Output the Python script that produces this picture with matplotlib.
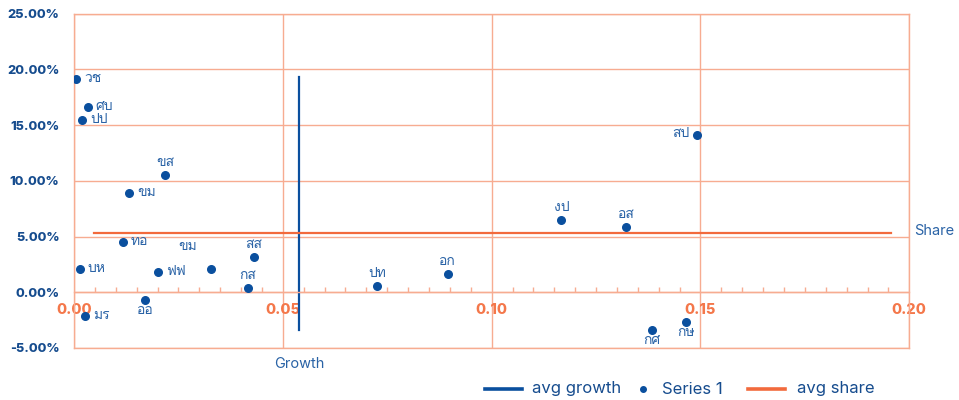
import matplotlib
matplotlib.use("Agg")
import matplotlib.font_manager as _fm
from matplotlib.ft2font import FT2Font
import matplotlib.pyplot as plt
from matplotlib.lines import Line2D
from matplotlib.ticker import PercentFormatter, FormatStrFormatter, MultipleLocator

# หาฟอนต์ที่มีอักษรไทย (ถ้าไม่มีใช้ DejaVu Sans)
def _find_thai_font():
    for f in _fm.fontManager.ttflist:
        try:
            if FT2Font(f.fname).get_char_index(0x0E01):
                return f.name
        except Exception:
            pass
    return "DejaVu Sans"

THAI_FONT = _find_thai_font()
plt.rcParams["font.family"] = ["Inter", "DejaVu Sans"]
plt.rcParams["axes.unicode_minus"] = False

# ─── data ─────────────────────────────────────────────────────────────── #
names = ["วช", "ศบ", "ปป", "ขส", "ขม", "ทอ", "บห", "ฟฟ", "ขม", "สส",
         "กส", "ออ", "มร", "ปท", "อก", "งป", "อส", "สป", "กศ", "กษ"]
growth = [0.0005, 0.0033, 0.0020, 0.0218, 0.0132, 0.0117, 0.0014, 0.0201, 0.0329, 0.0430,
          0.0416, 0.0170, 0.0027, 0.0725, 0.0895, 0.1167, 0.1322, 0.1491, 0.1384, 0.1466]
share = [0.191, 0.166, 0.155, 0.105, 0.089, 0.045, 0.021, 0.018, 0.021, 0.032,
         0.004, -0.007, -0.021, 0.006, 0.016, 0.065, 0.059, 0.141, -0.0335, -0.027]

avg_growth_x = [0.0538, 0.0538]
avg_growth_y = [-0.0335, 0.193]
avg_share_x = [0.0048, 0.1957]
avg_share_y = [0.0536, 0.0536]

legend_labels = ["avg growth", "Series 1", "avg share"]

# ─── styles ───────────────────────────────────────────────────────────── #
GRID = "#F7AC91"
ORANGE = "#F4774A"
SHARE_LINE = "#F26A3D"
BLUE = "#0A4F9E"
LABEL_BLUE = "#2A63A6"
TICK_BLUE = "#164C8E"

# ตำแหน่ง label: (ha, va, dx, dy) หน่วย pixel
LABEL_POS = {
    "r": ("left", "center", 8, 0),
    "a": ("center", "bottom", 0, 6),
    "b": ("center", "top", 0, -5),
    "l": ("right", "center", -7, 1),
    "la": ("center", "center", -24, 22),
}
label_side = ["r", "r", "r", "a", "r", "r", "r", "r", "la", "a",
              "a", "b", "r", "a", "a", "a", "a", "l", "b", "b"]

W, H = 959, 400
fig = plt.figure(figsize=(W / 100, H / 100), dpi=100)
ax = fig.add_axes([74 / W, 1 - 348 / H, (909.3 - 74) / W, (348 - 13.7) / H])

ax.set_xlim(0, 0.20)
ax.set_ylim(-0.05, 0.25)

ax.xaxis.set_major_locator(MultipleLocator(0.05))
ax.yaxis.set_major_locator(MultipleLocator(0.05))
ax.xaxis.set_major_formatter(FormatStrFormatter("%.2f"))
ax.yaxis.set_major_formatter(PercentFormatter(xmax=1, decimals=2))
ax.set_xticks([t * 0.005 for t in range(1, 40)], minor=True)

ax.grid(True, which="major", color=GRID, linewidth=1.0)
ax.set_axisbelow(True)

for s in ["left", "right", "top", "bottom"]:
    ax.spines[s].set_color(GRID)
    ax.spines[s].set_linewidth(1.0)
ax.spines["bottom"].set_position(("data", 0))
ax.axhline(-0.05, color=GRID, linewidth=1.0, clip_on=False)

ax.tick_params(axis="x", which="major", length=0, pad=8, labelcolor=ORANGE, labelsize=10.5)
ax.tick_params(axis="x", which="minor", direction="in", length=3.5, color=GRID, width=1.0)
ax.tick_params(axis="y", which="major", length=0, pad=10.5, labelcolor=TICK_BLUE, labelsize=9.2)
for lbl in ax.get_xticklabels() + ax.get_yticklabels():
    lbl.set_fontweight("heavy")

# เส้นค่าเฉลี่ย + จุด
ax.plot(avg_growth_x, avg_growth_y, color=BLUE, linewidth=1.6)
ax.scatter(growth, share, s=30, color=BLUE, zorder=5)
ax.plot(avg_share_x, avg_share_y, color=SHARE_LINE, linewidth=1.6)

for n, x, y, side in zip(names, growth, share, label_side):
    ha, va, dx, dy = LABEL_POS[side]
    ax.annotate(n, (x, y), xytext=(dx, dy), textcoords="offset pixels",
                ha=ha, va=va, fontsize=10, color=LABEL_BLUE, family=[THAI_FONT, "DejaVu Sans"])

# ชื่อแกน
fig.text(299 / W, 1 - 364 / H, "Growth", ha="center", va="center",
         fontsize=10.5, color=LABEL_BLUE)
fig.text(914 / W, 1 - 231 / H, "Share", ha="left", va="center",
         fontsize=10.5, color=LABEL_BLUE)

# legend วาดเอง (ตำแหน่งตาม Excel)
ly = 1 - 389 / H
fig.add_artist(Line2D([485 / W, 522 / W], [ly, ly], color=BLUE, linewidth=2.6,
                      transform=fig.transFigure))
fig.add_artist(Line2D([643 / W], [ly], color=BLUE, marker="o", markersize=4,
                      linestyle="none", transform=fig.transFigure))
fig.add_artist(Line2D([748 / W, 785 / W], [ly, ly], color=SHARE_LINE, linewidth=2.6,
                      transform=fig.transFigure))
for x0, txt in zip([532, 662, 797], legend_labels):
    fig.text(x0 / W, ly, txt, ha="left", va="center", fontsize=12, color=TICK_BLUE)

fig.savefig("out.png", dpi=100)
